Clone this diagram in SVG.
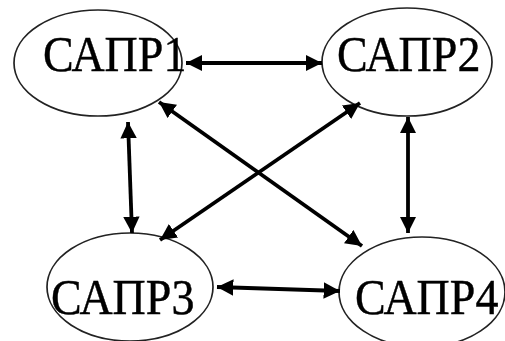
<svg xmlns="http://www.w3.org/2000/svg" width="505" height="341" viewBox="0 0 505 341">
  <defs>
    <marker id="head" viewBox="0 0 10 10" refX="10" refY="5" markerWidth="4.3" markerHeight="4.3" orient="auto-start-reverse" markerUnits="strokeWidth">
      <path d="M0,0 L10,5 L0,10 Z" fill="#000"/>
    </marker>
  </defs>
  <style>
    .node ellipse { fill: #fff; stroke: #222; stroke-width: 1.7; }
    .node text { font-family: "Liberation Serif", "Times New Roman", serif; font-size: 46px; fill: #000; stroke: #000; stroke-width: 0.4; }
    #connectors line { stroke: #000; stroke-width: 3.8; marker-start: url(#head); marker-end: url(#head); }
  </style>
  <rect width="505" height="341" fill="#fff"/>
  <g id="n1" class="node">
    <ellipse cx="98" cy="63" rx="84" ry="53"/>
    <text transform="translate(43,71) scale(1,1.1)">САПР1</text>
  </g>
  <g id="n2" class="node">
    <ellipse cx="407" cy="62" rx="85" ry="54"/>
    <text transform="translate(337,71) scale(1,1.1)">САПР2</text>
  </g>
  <g id="n3" class="node">
    <ellipse cx="130" cy="287" rx="83" ry="54"/>
    <text transform="translate(51,314) scale(1,1.1)">САПР3</text>
  </g>
  <g id="n4" class="node">
    <ellipse cx="422" cy="292" rx="83" ry="55"/>
    <text transform="translate(355,314) scale(1,1.1)">САПР4</text>
  </g>
  <g id="connectors">
    <line x1="186" y1="63" x2="322" y2="63"/>
    <line x1="217" y1="287" x2="340" y2="291"/>
    <line x1="128" y1="122" x2="132" y2="233"/>
    <line x1="408" y1="117" x2="408" y2="233"/>
    <line x1="159" y1="102" x2="362" y2="246"/>
    <line x1="360" y1="103" x2="160" y2="240"/>
  </g>
</svg>
